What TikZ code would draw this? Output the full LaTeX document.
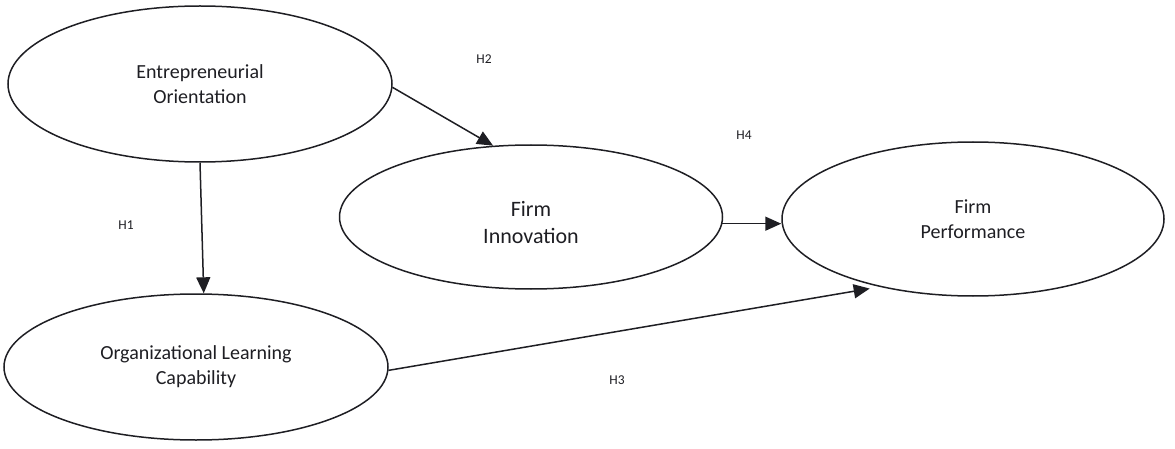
\documentclass[tikz,border=0pt]{standalone}
\usepackage{fontspec}
\setmainfont{Carlito}
\usetikzlibrary{shapes.geometric,arrows.meta}
\definecolor{ink}{RGB}{30,30,35}
\begin{document}
\begin{tikzpicture}[x=1pt,y=-1pt,
  ell/.style={ellipse,draw=ink,line width=1.5pt,inner sep=0pt,align=center,text=ink},
  maintxt/.style={font=\fontsize{20}{25}\selectfont},
  hyp/.style={font=\fontsize{13.5}{16}\selectfont,text=ink,inner sep=0pt},
  arr/.style={draw=ink,line width=1.5pt,-{Triangle[length=16pt,width=14pt]}}]
\useasboundingbox (0,0) rectangle (1175,449);
\node[ell,minimum width=384pt,minimum height=156pt,maintxt] (EO) at (200,84) {Entrepreneurial\\Orientation};
\node[ell,minimum width=383pt,minimum height=144pt,
  label={[name=FItxt,font=\fontsize{22}{27}\selectfont,align=center,text=ink,yshift=-6pt]center:Firm\\Innovation}] (FI) at (531,217) {};
\node[ell,maintxt,minimum width=382pt,minimum height=154pt] (FP) at (973,219) {Firm\\Performance};
\node[ell,maintxt,minimum width=384pt,minimum height=146pt] (OLC) at (196,367) {Organizational Learning\\Capability};
\node[hyp] (h1) at (126,225) {H1};
\node[hyp] (h2) at (484,59) {H2};
\node[hyp] (h3) at (617,380) {H3};
\node[hyp] (h4) at (744,135) {H4};
\draw[arr] (EO.south) -- (OLC.84);
\draw[arr] (EO.-1.2) -- (FI.118);
\draw[arr] (FI.-2.4) -- (FI.-2.4 -| FP.west);
\draw[arr,shorten >=10pt] (OLC.-1.2) -- (FP.216.5);
\end{tikzpicture}
\end{document}
